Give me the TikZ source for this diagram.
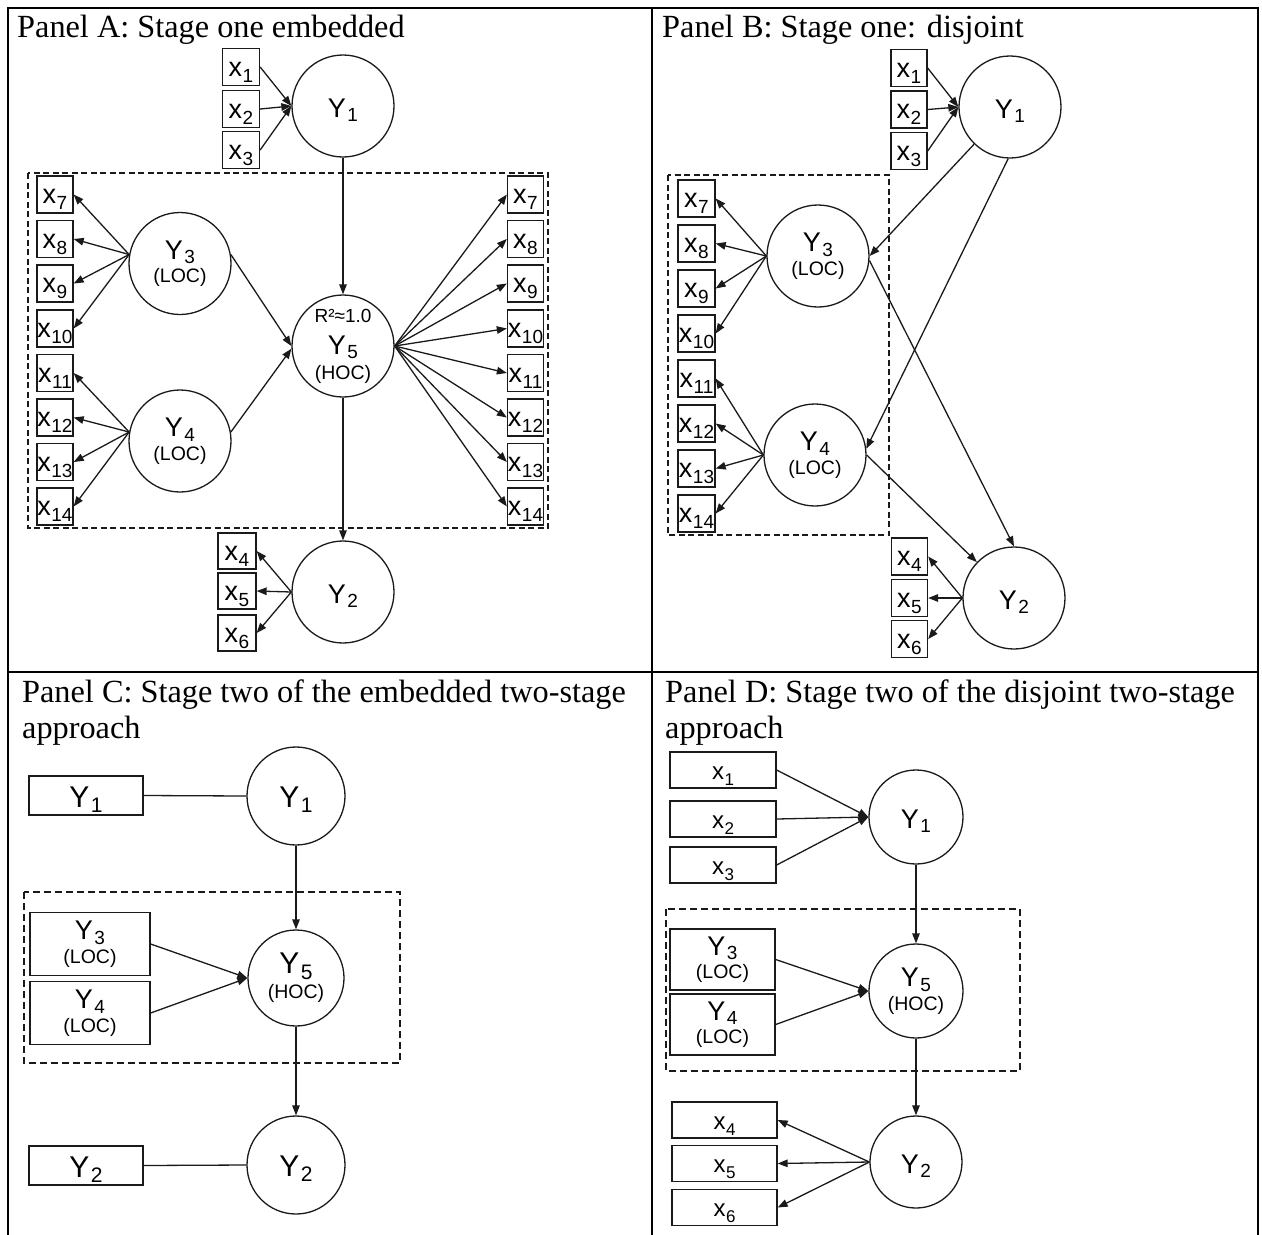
\documentclass[tikz,border=0pt]{standalone}
\usepackage{fontspec}
\setmainfont{Liberation Serif}
\setsansfont{Liberation Sans}
\usetikzlibrary{arrows.meta}
\newcommand\subsz{19}
\newcommand\subdrop{4.5pt}
\newcommand\lsb[1]{\kern1.5pt\raisebox{-\subdrop}{\fontsize{\subsz}{\subsz}\selectfont #1}}
\newcommand\xsb[1]{\kern0.5pt\raisebox{-6pt}{\fontsize{\subsz}{\subsz}\selectfont #1}}
\newcommand\locf{\fontsize{19.5}{19.5}\selectfont}
\definecolor{lc}{HTML}{1A1A1A}
\tikzset{
  lat/.style={circle,draw=lc,line width=1.3pt,inner sep=0pt,minimum size=102pt,
    font=\sffamily\fontsize{27}{21}\selectfont,align=center},
  latone/.style={lat,text height=22pt,text depth=0pt},
  bigf/.style={font=\sffamily\fontsize{30}{22}\selectfont\def\subsz{21}\def\subdrop{5.5pt}},
  ind/.style={draw=lc,line width=1.3pt,inner sep=0pt,minimum width=37pt,minimum height=37pt,
    font=\sffamily\fontsize{27}{20}\selectfont,text height=18pt,text depth=0pt},
  dind/.style={ind,minimum width=106pt,minimum height=36pt,
    font=\sffamily\fontsize{24}{20}\selectfont\def\subsz{17}},
  wind/.style={draw=lc,line width=1.3pt,inner sep=0pt,
    font=\sffamily\fontsize{27}{21}\selectfont,align=center},
  conn/.style={draw=lc,line width=1.3pt,-{Triangle[length=10pt,width=7.5pt]}},
  plainc/.style={draw=lc,line width=1.3pt},
  dbox/.style={draw=lc,line width=1.2pt,dash pattern=on 6pt off 3.5pt},
  frame/.style={draw=black,line width=1.8pt},
  ttl/.style={font=\fontsize{32.3}{36}\selectfont,inner sep=0pt,anchor=base west,align=left}
}
\begin{document}
\begin{tikzpicture}[x=1pt,y=-1pt]
\useasboundingbox[fill=white] (0,0) rectangle (1262,1235);
% frame
\draw[frame] (8,1235) -- (8,8) -- (1258,8) -- (1258,1235);
\draw[frame] (652,8) -- (652,1235);
\draw[frame] (8,672) -- (1258,672);
% titles (base anchor = last line)
\node[ttl] (tA) at (17,37) {Panel A: Stage one embedded};
\node[ttl] (tB) at (662,37) {Panel B: Stage one: disjoint};
\node[ttl] (tC) at (22,738) {Panel C: Stage two of the embedded two-stage\\approach};
\node[ttl] (tD) at (665,738) {Panel D: Stage two of the disjoint two-stage\\approach};

% ================= Panel A =================
\draw[dbox] (28,173) rectangle (548,528);
\node[latone] (aY1) at (343,106) {Y\lsb{1}};
\node[ind] (ax1) at (241,67) {x\xsb{1}};
\node[ind] (ax2) at (241,109) {x\xsb{2}};
\node[ind] (ax3) at (241,150) {x\xsb{3}};
\foreach \n in {ax1,ax2,ax3} \draw[conn] (\n.east) -- (aY1.west);
\node[lat] (aY3) at (180,263.5) {Y\lsb{3}\\[2.5pt]{\locf (LOC)}};
\node[lat] (aY4) at (180,441) {Y\lsb{4}\\[2.5pt]{\locf (LOC)}};
\node[lat] (aY5) at (343,346) {{\fontsize{19}{19}\selectfont R²≈1.0}\\[11pt]Y\lsb{5}\\[4pt]{\locf (HOC)}};
\node[latone] (aY2) at (343,592) {Y\lsb{2}};
\foreach \i/\y in {7/194.5,8/239,9/283.5,10/328.5} {
  \node[ind,minimum width=36pt] (aL\i) at (55,\y) {x\xsb{\i}};
  \draw[conn] (aY3.170) -- (aL\i.east);
}
\foreach \i/\y in {11/373,12/417.5,13/462,14/506.5} {
  \node[ind,minimum width=36pt] (aL\i) at (55,\y) {x\xsb{\i}};
  \draw[conn] (aY4.170) -- (aL\i.east);
}
\foreach \i/\y in {7/194.5,8/239,9/283.5,10/328.5,11/373,12/417.5,13/462,14/506.5} {
  \node[ind,minimum width=36pt] (aR\i) at (525.5,\y) {x\xsb{\i}};
  \draw[conn] (aY5.east) -- (aR\i.west);
}
\draw[conn] (aY1) -- (aY5);
\draw[conn] (aY3.10) -- (aY5.180);
\draw[conn] (aY4.10) -- (aY5.183);
\draw[conn] (aY5) -- (aY2);
\node[ind,minimum width=38pt,minimum height=36pt] (ax4) at (237,551) {x\xsb{4}};
\node[ind,minimum width=38pt,minimum height=36pt] (ax5) at (237,591) {x\xsb{5}};
\node[ind,minimum width=38pt,minimum height=36pt] (ax6) at (237,633) {x\xsb{6}};
\foreach \n in {ax4,ax5,ax6} \draw[conn] (aY2.west) -- (\n.east);

% ================= Panel B =================
\draw[dbox] (668,175) rectangle (889,535);
\node[latone] (bY1) at (1010,107) {Y\lsb{1}};
\node[ind,minimum width=36pt] (bx1) at (909,68) {x\xsb{1}};
\node[ind,minimum width=36pt] (bx2) at (909,109.5) {x\xsb{2}};
\node[ind,minimum width=36pt] (bx3) at (909,151) {x\xsb{3}};
\foreach \n in {bx1,bx2,bx3} \draw[conn] (\n.east) -- (bY1.west);
\node[lat] (bY3) at (818,256) {Y\lsb{3}\\[2.5pt]{\locf (LOC)}};
\node[lat] (bY4) at (815,455) {Y\lsb{4}\\[2.5pt]{\locf (LOC)}};
\node[latone] (bY2) at (1014,598) {Y\lsb{2}};
\foreach \i/\y in {7/198.5,8/243.5,9/288.5,10/333.5} {
  \node[ind] (bL\i) at (696.5,\y) {x\xsb{\i}};
  \draw[conn] (bY3.west) -- (bL\i.east);
}
\foreach \i/\y in {11/378.5,12/423.5,13/468.5,14/513.5} {
  \node[ind] (bL\i) at (696.5,\y) {x\xsb{\i}};
  \draw[conn] (bY4.west) -- (bL\i.east);
}
\draw[conn] (bY1.226) -- (bY3.east);
\draw[conn] (bY1.268) -- (bY4.7);
\draw[conn] (bY3.355) -- (bY2.north);
\draw[conn] (bY4.east) -- (bY2.136);
\node[ind,minimum width=36pt] (bx4) at (909.5,556.5) {x\xsb{4}};
\node[ind,minimum width=36pt] (bx5) at (909.5,598) {x\xsb{5}};
\node[ind,minimum width=36pt] (bx6) at (909.5,639) {x\xsb{6}};
\foreach \n in {bx4,bx5,bx6} \draw[conn] (bY2.west) -- (\n.east);

% ================= Panel C =================
\draw[dbox,dash pattern=on 7pt off 4pt] (24,892) rectangle (400,1063);
\node[latone,bigf,minimum size=98pt] (cY1) at (296,796) {Y\lsb{1}};
\node[wind,bigf,minimum width=114pt,minimum height=39pt,text height=23pt,text depth=0pt] (cB1) at (86,795.5) {Y\lsb{1}};
\draw[plainc] (cB1.east) -- (cY1.west);
\node[lat,bigf,minimum size=96pt] (cY5) at (296,978) {Y\lsb{5}\\[3pt]{\locf (HOC)}};
\node[wind,minimum width=120pt,minimum height=63pt] (cB3) at (90,944) {Y\lsb{3}\\[2.5pt]{\locf (LOC)}};
\node[wind,minimum width=120pt,minimum height=63pt] (cB4) at (90,1013) {Y\lsb{4}\\[2.5pt]{\locf (LOC)}};
\draw[conn] (cB3.east) -- (cY5.west);
\draw[conn] (cB4.east) -- (cY5.west);
\draw[conn] (cY1) -- (cY5);
\node[latone,bigf,minimum size=98pt] (cY2) at (296,1165) {Y\lsb{2}};
\node[wind,bigf,minimum width=114pt,minimum height=39pt,text height=23pt,text depth=0pt] (cB2) at (86,1165.5) {Y\lsb{2}};
\draw[plainc] (cB2.east) -- (cY2.west);
\draw[conn] (cY5) -- (cY2);

% ================= Panel D =================
\draw[dbox,dash pattern=on 7pt off 4pt] (666,909) rectangle (1020,1071);
\node[latone,minimum size=94pt] (dY1) at (916,817) {Y\lsb{1}};
\node[dind] (dx1) at (723,770) {x\xsb{1}};
\node[dind] (dx2) at (723,819) {x\xsb{2}};
\node[dind] (dx3) at (723,865) {x\xsb{3}};
\foreach \n in {dx1,dx2,dx3} \draw[conn] (\n.east) -- (dY1.west);
\node[lat,minimum size=94pt] (dY5) at (916,991) {Y\lsb{5}\\[2.5pt]{\locf (HOC)}};
\node[wind,minimum width=105pt,minimum height=61pt] (dB3) at (722.5,959.5) {Y\lsb{3}\\[2.5pt]{\locf (LOC)}};
\node[wind,minimum width=105pt,minimum height=61pt] (dB4) at (722.5,1024.5) {Y\lsb{4}\\[2.5pt]{\locf (LOC)}};
\draw[conn] (dB3.east) -- (dY5.west);
\draw[conn] (dB4.east) -- (dY5.west);
\draw[conn] (dY1) -- (dY5);
\node[latone,minimum size=92pt] (dY2) at (916,1162) {Y\lsb{2}};
\draw[conn] (dY5) -- (dY2);
\node[dind,minimum width=105pt] (dx4) at (724.5,1120) {x\xsb{4}};
\node[dind,minimum width=105pt] (dx5) at (724.5,1163.5) {x\xsb{5}};
\node[dind,minimum width=105pt] (dx6) at (724.5,1207.5) {x\xsb{6}};
\foreach \n in {dx4,dx5,dx6} \draw[conn] (dY2.west) -- (\n.east);
\end{tikzpicture}
\end{document}
